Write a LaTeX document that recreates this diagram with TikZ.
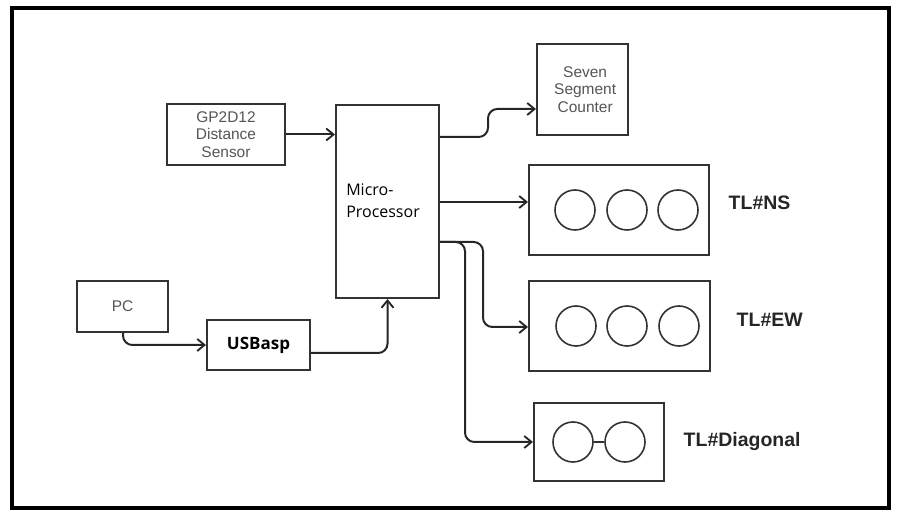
\documentclass[tikz,border=0pt]{standalone}
\usepackage{fontspec}
\setmainfont{Liberation Sans}
\newfontfamily\segfont{Open Sans}
\usetikzlibrary{arrows.meta,fit}
\definecolor{boxline}{HTML}{333333}
\definecolor{graytext}{HTML}{555555}
\begin{document}
\begin{tikzpicture}[x=0.75pt,y=-0.75pt,
  box/.style={draw=boxline,line width=1.5pt,inner sep=0pt},
  lamp/.style={circle,draw=boxline,line width=1.2pt,minimum size=30pt,inner sep=0pt},
  gtext/.style={text=graytext,font=\fontsize{11.6}{13.3}\selectfont,align=center,inner sep=0pt},
  tl/.style={font=\bfseries\fontsize{14.6}{17}\selectfont,text=black!85,anchor=west},
  conn/.style={line width=1.5pt,draw=black!85,rounded corners=7pt},
  arr/.style={conn,-{Straight Barb[length=5.5pt,width=9pt,line width=1.4pt]}}
]
\useasboundingbox (0,0) rectangle (903,523);
\node[draw=black,line width=2.3pt,fit={(12,8)(889,508)},inner sep=0pt] (frame) {};

\node[box,fit={(167,104)(285,165)}] (gp) {};
\node[gtext] (gptext) at (gp.center) {GP2D12\\Distance\\Sensor};
\node[box,fit={(336,105)(439,298)}] (mp) {};
\node[anchor=west,font=\segfont\fontsize{12}{16.5}\selectfont,align=left,inner sep=0pt] (mptext) at (346,201) {Micro-\\Processor};
\node[box,fit={(537,44)(628,135)}] (seven) {};
\node[gtext] (seventext) at ([xshift=2pt]seven.center) {Seven\\Segment\\Counter};

\node[box,fit={(529,165)(709,255)}] (ns) {};
\node[lamp] (ns1) at (575,210) {};
\node[lamp] (ns2) at (627,210) {};
\node[lamp] (ns3) at (678,210) {};
\node[tl] (nsl) at (724,203) {TL\#NS};

\node[box,fit={(529,281)(710,371)}] (ew) {};
\node[lamp] (ew1) at (576,326) {};
\node[lamp] (ew2) at (627,326) {};
\node[lamp] (ew3) at (679,326) {};
\node[tl] (ewl) at (732,320) {TL\#EW};

\node[box,fit={(534,403)(664,481)}] (dg) {};
\node[lamp] (dg1) at (573,442) {};
\node[lamp] (dg2) at (625,442) {};
\draw[boxline,line width=1.2pt] (dg1) -- (dg2);
\node[tl] (dgl) at (679,442) {TL\#Diagonal};

\node[box,fit={(77,281)(168,332)}] (pc) {};
\node[gtext] (pctext) at (pc.center) {PC};
\node[box,fit={(207,320)(310,370)}] (usb) {};
\node[font=\segfont\bfseries\fontsize{12.75}{15}\selectfont,inner sep=0pt] (usbtext) at (usb.center) {USBasp};

\draw[arr] (gp.east) -- (gp.east -| mp.west);
\draw[arr] (mp.east |- 0,137) -- (488,137) -- (488,109) -- (seven.west |- 0,109);
\draw[arr] (mp.east |- 0,202) -- (ns.west |- 0,202);
\draw[arr] (mp.east |- 0,242) -- (483,242) -- (483,327) -- (ew.west |- 0,327);
\draw[arr] (mp.east |- 0,242) -- (465,242) -- (465,442) -- (dg.west);
\draw[arr] (pc.south -| 123,0) -- (123,345) -- (usb.west);
\draw[arr] (usb.east |- 0,353) -- (mp.south |- 0,353) -- (mp.south);
\end{tikzpicture}
\end{document}
